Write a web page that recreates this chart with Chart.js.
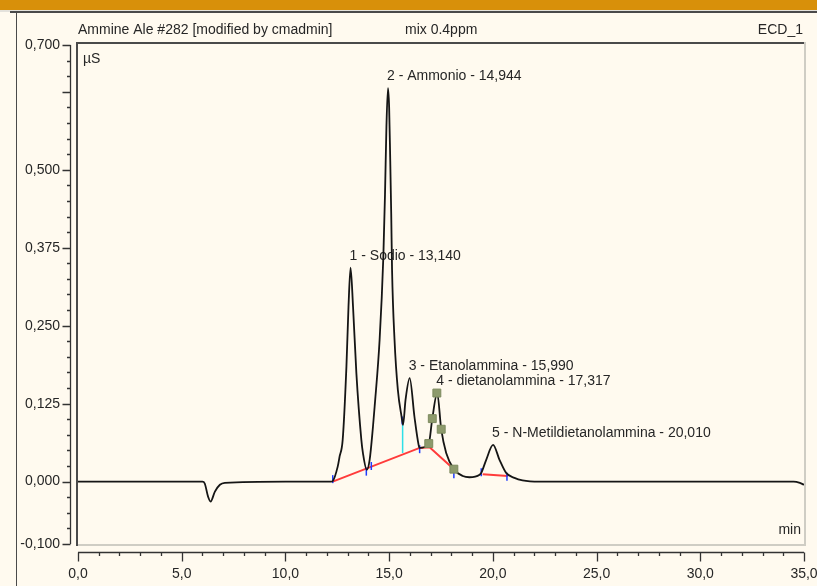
<!DOCTYPE html>
<html>
<head>
<meta charset="utf-8">
<script src="https://cdn.jsdelivr.net/npm/chart.js@4.4.1/dist/chart.umd.min.js"></script>
<style>
  html, body { margin: 0; padding: 0; }
  body { width: 817px; height: 586px; position: relative; overflow: hidden; background: #fffaef; font-family: "Liberation Sans", Arial, sans-serif; }
  .topbar { position: absolute; left: 0; top: 0; width: 817px; height: 10px; background: #d8900a; }
  .strip { position: absolute; left: 0; top: 10px; width: 817px; height: 2px; background: #e4e2dc; }
  .frameTop { position: absolute; left: 10px; top: 11px; width: 807px; height: 2px; background: #4a4a4a; }
  .frameLeft { position: absolute; left: 16px; top: 12px; width: 1px; height: 574px; background: #4a4a4a; }
  #chart { position: absolute; left: 0; top: 0; }
</style>
</head>
<body>
<div class="topbar"></div>
<div class="strip"></div>
<div class="frameTop"></div>
<div class="frameLeft"></div>
<canvas id="chart" width="817" height="586"></canvas>
<script>
// Header texts
const headerLeft = 'Ammine Ale #282 [modified by cmadmin]';
const headerMid = 'mix 0.4ppm';
const headerRight = 'ECD_1';
const yUnit = 'µS';
const xUnit = 'min';

// Axis ticks
const xTickValues = [0, 5, 10, 15, 20, 25, 30, 35];
const xTickLabels = ['0,0', '5,0', '10,0', '15,0', '20,0', '25,0', '30,0', '35,0'];
const yTickValues = [-0.1, 0, 0.125, 0.25, 0.375, 0.5, 0.625, 0.7];
const yTickLabels = ['-0,100', '0,000', '0,125', '0,250', '0,375', '0,500', '', '0,700'];

// Chromatogram trace (min, µS)
const traceTime = [0, 1.0, 4.5, 6.0, 6.11, 6.27, 6.39, 6.6, 6.84, 7.08, 10.0, 12.2,
  12.28, 12.52, 12.61, 12.76, 12.94, 13.04, 13.14, 13.26, 13.42, 13.66, 13.74, 13.92,
  14.06, 14.22, 14.30, 14.54, 14.72, 14.80, 14.87, 14.944, 15.00, 15.05, 15.10, 15.14,
  15.26, 15.42, 15.60, 15.67, 15.79, 15.99, 16.22, 16.42, 16.47, 16.91, 17.08, 17.317,
  17.51, 17.75, 18.12, 18.55, 18.87, 19.36, 19.44, 19.68, 20.01, 20.32, 20.64, 21.04,
  21.43, 22.24, 30.0, 34.5, 34.8, 35.0];
const traceSignal = [0, 0, 0, 0, -0.003, -0.024, -0.032, -0.016, -0.005, -0.002, 0, 0,
  0.001, 0.024, 0.040, 0.067, 0.184, 0.28, 0.343, 0.28, 0.174, 0.067, 0.045, 0.019,
  0.035, 0.088, 0.12, 0.227, 0.36, 0.46, 0.57, 0.631, 0.60, 0.52, 0.43, 0.34,
  0.227, 0.147, 0.104, 0.091, 0.131, 0.166, 0.104, 0.059, 0.054, 0.061, 0.101, 0.142,
  0.084, 0.046, 0.020, 0.009, 0.007, 0.011, 0.014, 0.035, 0.059, 0.035, 0.014, 0.006,
  0.002, 0, 0, 0, -0.002, -0.005];

// Integration baseline (red), null breaks the line
const baseTime = [12.28, 16.47, 16.95, 17.99, 18.5, 19.51, 20.72];
const baseSignal = [0.0, 0.054, 0.055, 0.024, null, 0.012, 0.009];

// Peak delimiters (blue marks)
const delimTime = [12.28, 13.90, 14.14, 15.63, 16.47, 18.12, 19.44, 20.68];
const delimSignal = [0.004, 0.016, 0.025, 0.098, 0.052, 0.012, 0.015, 0.008];

// Drop line between peak 2 and 3 (cyan)
const dropTime = [15.65, 15.65];
const dropSignal = [0.091, 0.046];

// Marked points on peak 4 (green squares)
const markTime = [16.91, 17.08, 17.30, 17.51, 18.12];
const markSignal = [0.061, 0.101, 0.142, 0.084, 0.020];

// Peak labels
const peakLabels = ['1 - Sodio - 13,140', '2 - Ammonio - 14,944', '3 - Etanolammina - 15,990',
  '4 - dietanolammina - 17,317', '5 - N-Metildietanolammina - 20,010'];
const peakTimes = [13.14, 14.944, 15.99, 17.317, 20.01];
const peakHeights = [0.343, 0.631, 0.166, 0.142, 0.059];

function pairs(xs, ys) {
  return xs.map((x, i) => ({ x: x, y: ys[i] }));
}

const textColor = '#262626';
const textFont = '14px "Liberation Sans", Arial, sans-serif';

function noScalePadding(scale) {
  scale.paddingLeft = 0;
  scale.paddingRight = 0;
  scale.paddingTop = 0;
  scale.paddingBottom = 0;
}

// Frame, axes, ticks, texts
const decorPlugin = {
  id: 'decor',
  beforeDatasetsDraw(chart) {
    const ctx = chart.ctx;
    const xs = chart.scales.x;
    const ys = chart.scales.y;
    ctx.save();
    ctx.fillStyle = textColor;
    ctx.font = textFont;
    ctx.textBaseline = 'middle';
    ctx.textAlign = 'left';
    peakLabels.forEach((label, i) => {
      const px = xs.getPixelForValue(peakTimes[i]) - 1;
      const py = ys.getPixelForValue(peakHeights[i]) - 12;
      ctx.fillText(label, px, py);
    });
    ctx.restore();
  },
  afterDraw(chart) {
    const ctx = chart.ctx;
    const area = chart.chartArea;
    const xs = chart.scales.x;
    const ys = chart.scales.y;
    ctx.save();

    // plot box: dark top/left, light bottom/right
    ctx.fillStyle = '#cfcdc4';
    ctx.fillRect(area.left - 2, area.bottom, area.right - area.left + 4, 2);
    ctx.fillRect(area.right, area.top - 3, 2, area.bottom - area.top + 5);
    ctx.fillStyle = '#4a4a4a';
    ctx.fillRect(area.left - 2, area.top - 3, area.right - area.left + 2, 2);
    ctx.fillRect(area.left - 2, area.top - 3, 2, area.bottom - area.top + 5);

    // y axis
    const yAxisX = area.left - 7.5;
    ctx.strokeStyle = '#333';
    ctx.lineWidth = 1.3;
    ctx.beginPath();
    ctx.moveTo(yAxisX, ys.getPixelForValue(0.7));
    ctx.lineTo(yAxisX, ys.getPixelForValue(-0.1));
    yTickValues.forEach(v => {
      const py = Math.round(ys.getPixelForValue(v)) + 0.5;
      ctx.moveTo(yAxisX - 8, py);
      ctx.lineTo(yAxisX, py);
    });
    for (let v = -0.075; v < 0.7; v += 0.025) {
      if (yTickValues.some(t => Math.abs(t - v) < 1e-6)) continue;
      const py = Math.round(ys.getPixelForValue(v)) + 0.5;
      ctx.moveTo(yAxisX - 3.5, py);
      ctx.lineTo(yAxisX, py);
    }
    ctx.stroke();

    // x axis
    const xAxisY = area.bottom + 8.5;
    ctx.beginPath();
    ctx.moveTo(xs.getPixelForValue(0), xAxisY);
    ctx.lineTo(xs.getPixelForValue(35), xAxisY);
    xTickValues.forEach(v => {
      const px = Math.round(xs.getPixelForValue(v)) + 0.5;
      ctx.moveTo(px, xAxisY);
      ctx.lineTo(px, xAxisY + 9);
    });
    for (let v = 1; v < 35; v += 1) {
      if (v % 5 === 0) continue;
      const px = Math.round(xs.getPixelForValue(v)) + 0.5;
      ctx.moveTo(px, xAxisY);
      ctx.lineTo(px, xAxisY + 3.5);
    }
    ctx.stroke();

    // header and unit texts
    ctx.fillStyle = textColor;
    ctx.font = textFont;
    ctx.textBaseline = 'middle';
    ctx.textAlign = 'left';
    ctx.fillText(headerLeft, 78, 30);
    ctx.fillText(headerMid, 405, 30);
    ctx.fillText(yUnit, area.left + 5, area.top + 14);
    ctx.textAlign = 'right';
    ctx.fillText(headerRight, 803, 30);
    ctx.fillText(xUnit, area.right - 3, area.bottom - 14);
    ctx.restore();
  }
};

const ctx = document.getElementById('chart');

new Chart(ctx, {
  type: 'line',
  data: {
    datasets: [
      {
        label: 'marks',
        type: 'scatter',
        data: pairs(markTime, markSignal),
        pointStyle: 'rect',
        pointRadius: 5.6,
        pointBackgroundColor: '#8d9a6c',
        pointBorderColor: '#7d8a5e',
        pointBorderWidth: 1,
        order: 0
      },
      {
        label: 'trace',
        data: pairs(traceTime, traceSignal),
        borderColor: '#151515',
        borderWidth: 1.8,
        pointRadius: 0,
        cubicInterpolationMode: 'monotone',
        order: 1
      },
      {
        label: 'delimiters',
        type: 'scatter',
        data: pairs(delimTime, delimSignal),
        pointStyle: 'line',
        rotation: 90,
        pointRadius: 4,
        pointBorderColor: '#1f3cff',
        pointBorderWidth: 1.5,
        order: 2
      },
      {
        label: 'drop',
        data: pairs(dropTime, dropSignal),
        borderColor: '#2ee0e8',
        borderWidth: 1.5,
        pointRadius: 0,
        order: 3
      },
      {
        label: 'baseline',
        data: pairs(baseTime, baseSignal),
        borderColor: '#ff3b3b',
        borderWidth: 2,
        pointRadius: 0,
        spanGaps: false,
        order: 4
      }
    ]
  },
  options: {
    responsive: false,
    animation: false,
    devicePixelRatio: 1,
    layout: { padding: { top: 45, right: 13, bottom: 0, left: 0 } },
    plugins: {
      legend: { display: false },
      tooltip: { enabled: false }
    },
    scales: {
      x: {
        type: 'linear',
        min: 0,
        max: 35,
        afterFit: scale => { scale.height = 42; noScalePadding(scale); },
        afterBuildTicks: scale => { scale.ticks = xTickValues.map(v => ({ value: v })); },
        grid: { display: false },
        border: { display: false },
        ticks: {
          padding: 14,
          maxRotation: 0,
          autoSkip: false,
          color: textColor,
          font: { family: '"Liberation Sans", Arial, sans-serif', size: 14 },
          callback: (value, index) => xTickLabels[index]
        }
      },
      y: {
        type: 'linear',
        min: -0.1,
        max: 0.7,
        afterFit: scale => { scale.width = 78; noScalePadding(scale); },
        afterBuildTicks: scale => { scale.ticks = yTickValues.map(v => ({ value: v })); },
        grid: { display: false },
        border: { display: false },
        ticks: {
          padding: 10,
          autoSkip: false,
          color: textColor,
          font: { family: '"Liberation Sans", Arial, sans-serif', size: 14 },
          callback: (value, index) => yTickLabels[index]
        }
      }
    }
  },
  plugins: [decorPlugin]
});
</script>
</body>
</html>
